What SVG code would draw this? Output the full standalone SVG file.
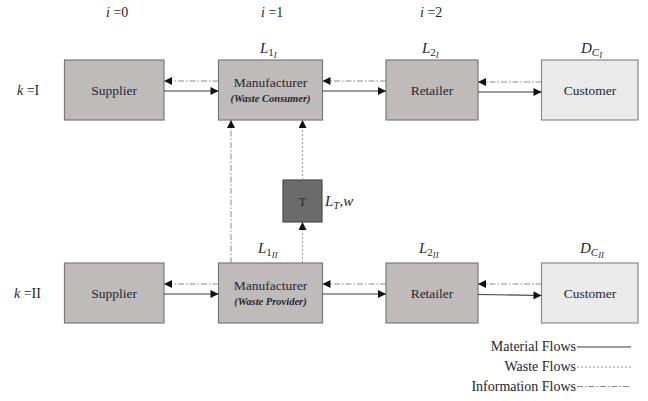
<svg xmlns="http://www.w3.org/2000/svg" width="648" height="401" viewBox="0 0 648 401">
<defs>
<marker id="ah" viewBox="0 0 10 10" refX="10" refY="5" markerWidth="9" markerHeight="8" markerUnits="userSpaceOnUse" orient="auto">
<path d="M0,0 L10,5 L0,10 z" fill="#111"/>
</marker>
<style>
.box{fill:#bfbbbb;stroke:#7a7a7a;stroke-width:1.2}
.cust{fill:#ebebeb;stroke:#8a8a8a;stroke-width:1.2}
.tbox{fill:#6b6b6b;stroke:#4a4a4a;stroke-width:1.2}
.t{font-family:"Liberation Serif","Times New Roman",serif;fill:#262630}
.lbl{font-size:13.5px;text-anchor:middle}
.sub{font-size:10.5px;font-weight:bold;font-style:italic;text-anchor:middle}
.math{font-family:"Liberation Serif","Times New Roman",serif;font-style:italic;fill:#262630;font-size:15px}
.mat{stroke:#3a3a3a;stroke-width:1.2;fill:none}
.info{stroke:#8a8a8a;stroke-width:1;fill:none;stroke-dasharray:6 2 1.5 2}
.waste{stroke:#9a9a9a;stroke-width:1;fill:none;stroke-dasharray:2 2}
.leg{font-size:14px;text-anchor:end}
</style>
</defs>

<g id="headers" class="t">
<text x="106" y="17" font-size="14"><tspan font-style="italic">i</tspan> =0</text>
<text x="261" y="17" font-size="14"><tspan font-style="italic">i</tspan> =1</text>
<text x="420" y="17" font-size="14"><tspan font-style="italic">i</tspan> =2</text>
<text x="17" y="95" font-size="14"><tspan font-style="italic">k</tspan> =I</text>
<text x="14" y="298" font-size="14"><tspan font-style="italic">k</tspan> =II</text>
</g>

<g id="supplier1"><rect class="box" x="64.5" y="60" width="99.5" height="60"/><text class="t lbl" x="114" y="94.5">Supplier</text></g>
<g id="manufacturer1"><rect class="box" x="218.5" y="60" width="104" height="60"/><text class="t lbl" x="270.5" y="86.5">Manufacturer</text><text class="t sub" x="270.5" y="102">(Waste Consumer)</text></g>
<g id="retailer1"><rect class="box" x="386" y="60" width="92" height="60"/><text class="t lbl" x="432" y="94.5">Retailer</text></g>
<g id="customer1"><rect class="cust" x="541.5" y="60" width="96.5" height="60"/><text class="t lbl" x="590" y="95">Customer</text></g>

<g id="T"><rect class="tbox" x="283" y="180" width="39" height="42"/><text class="t" x="302.5" y="206" font-size="13" text-anchor="middle" fill="#1a1a1a">T</text></g>

<g id="supplier2"><rect class="box" x="64.5" y="263" width="99.5" height="60"/><text class="t lbl" x="114" y="297.5">Supplier</text></g>
<g id="manufacturer2"><rect class="box" x="218.5" y="263" width="104" height="60"/><text class="t lbl" x="270.5" y="289.5">Manufacturer</text><text class="t sub" x="270.5" y="305">(Waste Provider)</text></g>
<g id="retailer2"><rect class="box" x="386" y="263" width="92" height="60"/><text class="t lbl" x="432" y="297.5">Retailer</text></g>
<g id="customer2"><rect class="cust" x="541.5" y="263" width="96.5" height="60"/><text class="t lbl" x="590" y="298">Customer</text></g>

<g id="labels">
<text class="math" x="260" y="53">L<tspan font-size="11" font-style="normal" dy="3">1</tspan><tspan font-size="8.5" dy="2">I</tspan></text>
<text class="math" x="422" y="53">L<tspan font-size="11" font-style="normal" dy="3">2</tspan><tspan font-size="8.5" dy="2">I</tspan></text>
<text class="math" x="581" y="53">D<tspan font-size="11" dy="3">C</tspan><tspan font-size="8.5" dy="2">I</tspan></text>
<text class="math" x="258" y="253">L<tspan font-size="11" font-style="normal" dy="3">1</tspan><tspan font-size="8.5" dy="2">II</tspan></text>
<text class="math" x="419" y="253">L<tspan font-size="11" font-style="normal" dy="3">2</tspan><tspan font-size="8.5" dy="2">II</tspan></text>
<text class="math" x="580" y="253">D<tspan font-size="11" dy="3">C</tspan><tspan font-size="8.5" dy="2">II</tspan></text>
<text class="math" x="325" y="206">L<tspan font-size="11" dy="3">T</tspan><tspan dy="-3">,w</tspan></text>
</g>

<g id="connectors">
<line class="mat" x1="164" y1="91" x2="218.5" y2="91" marker-end="url(#ah)"/>
<line class="info" x1="218.5" y1="81" x2="164" y2="81" marker-end="url(#ah)"/>
<line class="mat" x1="322.5" y1="91" x2="386" y2="91" marker-end="url(#ah)"/>
<line class="info" x1="386" y1="81" x2="322.5" y2="81" marker-end="url(#ah)"/>
<line class="mat" x1="478" y1="92" x2="541.5" y2="92" marker-end="url(#ah)"/>
<line class="info" x1="541.5" y1="82" x2="478" y2="82" marker-end="url(#ah)"/>

<line class="mat" x1="164" y1="294" x2="218.5" y2="294" marker-end="url(#ah)"/>
<line class="info" x1="218.5" y1="284" x2="164" y2="284" marker-end="url(#ah)"/>
<line class="mat" x1="322.5" y1="294" x2="386" y2="294" marker-end="url(#ah)"/>
<line class="info" x1="386" y1="284" x2="322.5" y2="284" marker-end="url(#ah)"/>
<line class="mat" x1="478" y1="294.5" x2="541.5" y2="295.5" marker-end="url(#ah)"/>
<line class="info" x1="541.5" y1="284" x2="478" y2="284" marker-end="url(#ah)"/>

<line class="info" x1="231" y1="263" x2="231" y2="120" marker-end="url(#ah)"/>
<line class="waste" x1="302.5" y1="263" x2="302.5" y2="222" marker-end="url(#ah)"/>
<line class="waste" x1="302.5" y1="180" x2="302.5" y2="120" marker-end="url(#ah)"/>
</g>

<g id="legend">
<text class="t leg" x="576" y="351">Material Flows</text>
<line class="mat" x1="577" y1="347" x2="631" y2="347"/>
<text class="t leg" x="576" y="370.5">Waste Flows</text>
<line class="waste" x1="577" y1="367" x2="631" y2="367"/>
<text class="t leg" x="576" y="390.5">Information Flows</text>
<line class="info" x1="577" y1="386.5" x2="631" y2="386.5"/>
</g>
</svg>
